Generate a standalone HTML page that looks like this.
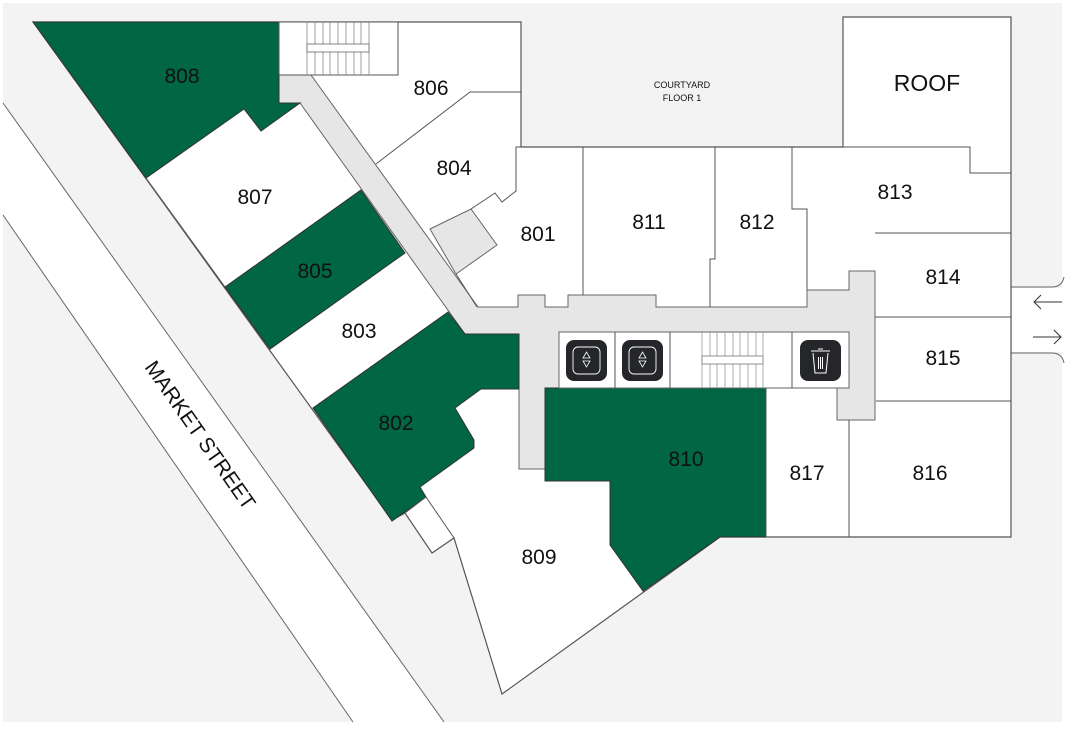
<!DOCTYPE html>
<html><head><meta charset="utf-8"><style>
html,body{margin:0;padding:0;background:#fff;}
svg{display:block;}
text{font-family:"Liberation Sans","DejaVu Sans",sans-serif;fill:#111;}
</style></head><body>
<svg width="1065" height="732" viewBox="0 0 1065 732" xmlns="http://www.w3.org/2000/svg">
<rect x="3" y="3" width="1059" height="719" fill="#f3f3f3"/>
<!-- street -->
<polygon points="3,103 444,722 353,722 3,215" fill="#fff"/>
<line x1="3" y1="103" x2="444" y2="722" stroke="#666" stroke-width="1"/>
<line x1="3" y1="215" x2="353" y2="722" stroke="#666" stroke-width="1"/>
<text x="0" y="0" font-size="21" text-anchor="middle" transform="translate(199,436) rotate(55)" dominant-baseline="middle">MARKET STREET</text>
<!-- road right -->
<rect x="1012" y="288" width="53" height="64" fill="#fff"/>
<path d="M1011,287 H1052 Q1062,287 1064,277" fill="none" stroke="#666" stroke-width="1"/>
<path d="M1011,353 H1052 Q1062,353 1064,363" fill="none" stroke="#666" stroke-width="1"/>
<path d="M1062,302 H1034 M1041,295 L1034,302 L1041,309" fill="none" stroke="#333" stroke-width="1"/>
<path d="M1033,337 H1061 M1054,330 L1061,337 L1054,344" fill="none" stroke="#333" stroke-width="1"/>
<!-- building base -->
<polygon points="33,22 521,22 521,147 843,147 843,17 1011,17 1011,537 720,537 502,694 454,538 432,553 405,513 392,520" fill="#fff" stroke="#555" stroke-width="1.2"/>
<!-- corridor -->
<polygon points="279,75 311,75 478,307 518,307 518,295 545,295 545,307 568,307 568,295 656,295 656,307 807,307 807,290 849,290 849,271 875,271 875,420 837,420 837,388 545,388 545,469 519,469 519,334 465,334 300,103 279,103" fill="#e6e6e6" stroke="#666" stroke-width="1"/>
<polygon points="430,229 471,209 497,245 456,274" fill="#e6e6e6" stroke="#666" stroke-width="1"/>
<!-- green rooms -->
<g fill="#006643" stroke="#333" stroke-width="1">
<polygon points="33,22 279,22 279,103 300,103 261,131 244,109 146,178"/>
<polygon points="361,190 405,253 270,349 225,287"/>
<polygon points="448,312 465,334 519,334 519,389 481,389 455,408 474,440 474,448 420,487 426,497 392,521 313,408"/>
<polygon points="545,388 766,388 766,537 720,537 643,591 610,545 610,481 545,481"/>
</g>
<!-- room lines -->
<g fill="none" stroke="#555" stroke-width="1">
<polyline points="146,178 225,287"/>
<polyline points="376,164 470,92 521,92"/>
<polyline points="521,147 516,147 516,191 502,202 495,193 471,209"/>
<polyline points="456,274 477,307"/>
<polyline points="583,147 583,295"/>
<polyline points="715,147 715,259 710,259 710,307"/>
<polyline points="792,147 792,209 807,209 807,290"/>
<polyline points="843,147 970,147 970,173 1011,173"/>
<polyline points="875,233 1011,233"/>
<polyline points="875,317 1011,317"/>
<polyline points="876,401 1011,401"/>
<polyline points="849,420 849,537"/>
<polyline points="766,388 766,537"/>
<polyline points="405,513 426,497"/>
<polyline points="454,538 426,497"/>
</g>
<!-- stairs top -->
<rect x="279" y="22" width="119" height="53" fill="#fff" stroke="#555" stroke-width="1"/>
<g stroke="#888" stroke-width="0.8">
<line x1="307" y1="22" x2="307" y2="75"/><line x1="315" y1="22" x2="315" y2="75"/><line x1="323" y1="22" x2="323" y2="75"/><line x1="330" y1="22" x2="330" y2="75"/><line x1="338" y1="22" x2="338" y2="75"/><line x1="346" y1="22" x2="346" y2="75"/><line x1="354" y1="22" x2="354" y2="75"/><line x1="361" y1="22" x2="361" y2="75"/><line x1="369" y1="22" x2="369" y2="75"/>
</g>
<rect x="307" y="44" width="62" height="8" fill="#fff" stroke="#666" stroke-width="0.8"/>
<!-- utility row -->
<rect x="559" y="332" width="290" height="56" fill="#fff" stroke="#666" stroke-width="1"/>
<g stroke="#555" stroke-width="1"><line x1="615" y1="332" x2="615" y2="388"/><line x1="670" y1="332" x2="670" y2="388"/><line x1="792" y1="332" x2="792" y2="388"/></g>
<g stroke="#999" stroke-width="0.8">
<line x1="702" y1="332" x2="702" y2="388"/><line x1="710" y1="332" x2="710" y2="388"/><line x1="717" y1="332" x2="717" y2="388"/><line x1="725" y1="332" x2="725" y2="388"/><line x1="733" y1="332" x2="733" y2="388"/><line x1="740" y1="332" x2="740" y2="388"/><line x1="748" y1="332" x2="748" y2="388"/><line x1="756" y1="332" x2="756" y2="388"/><line x1="763" y1="332" x2="763" y2="388"/>
</g>
<rect x="702" y="356" width="61" height="8" fill="#fff" stroke="#777" stroke-width="0.8"/>
<g>
<rect x="566" y="340" width="41" height="41" rx="8" fill="#25262a"/>
<rect x="573" y="347" width="27" height="27" rx="5" fill="none" stroke="#fff" stroke-width="0.9"/>
<path d="M586.5,352 L583,358 H590 Z M583,361 H590 L586.5,367 Z" fill="none" stroke="#fff" stroke-width="0.8"/>
<rect x="622" y="340" width="41" height="41" rx="8" fill="#25262a"/>
<rect x="629" y="347" width="27" height="27" rx="5" fill="none" stroke="#fff" stroke-width="0.9"/>
<path d="M642.5,352 L639,358 H646 Z M639,361 H646 L642.5,367 Z" fill="none" stroke="#fff" stroke-width="0.8"/>
<rect x="800" y="340" width="41" height="41" rx="8" fill="#25262a"/>
<path d="M811,351 H830 M818,349 H823 M813,353 L815,373 H826 L828,353 M818.5,357 V369 M820.5,357 V369 M822.5,357 V369" fill="none" stroke="#fff" stroke-width="1"/>
</g>
<!-- labels -->
<g font-size="21" text-anchor="middle">
<text x="182" y="83">808</text>
<text x="431" y="95">806</text>
<text x="255" y="204">807</text>
<text x="454" y="175">804</text>
<text x="315" y="278">805</text>
<text x="359" y="338">803</text>
<text x="396" y="430">802</text>
<text x="538" y="241">801</text>
<text x="649" y="229">811</text>
<text x="757" y="229">812</text>
<text x="895" y="199">813</text>
<text x="943" y="284">814</text>
<text x="943" y="365">815</text>
<text x="930" y="480">816</text>
<text x="807" y="480">817</text>
<text x="686" y="466">810</text>
<text x="539" y="564">809</text>
<text x="927" y="91" font-size="23">ROOF</text>
</g>
<text x="682" y="88" font-size="9" text-anchor="middle">COURTYARD</text>
<text x="682" y="101" font-size="9" text-anchor="middle">FLOOR 1</text>
</svg>
</body></html>
